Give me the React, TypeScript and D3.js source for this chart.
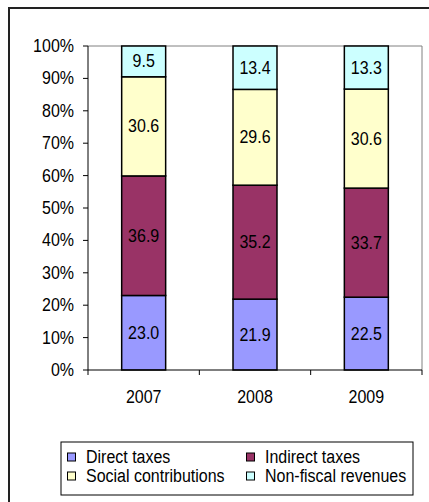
import * as d3 from "d3";

const years = ["2007", "2008", "2009"];
const seriesNames = ["Direct taxes", "Indirect taxes", "Social contributions", "Non-fiscal revenues"];
const directTaxes = [23.0, 21.9, 22.5];
const indirectTaxes = [36.9, 35.2, 33.7];
const socialContributions = [30.6, 29.6, 30.6];
const nonFiscal = [9.5, 13.4, 13.3];
const colors = ["#9999FF", "#993366", "#FFFFCC", "#CCFFFF"];
const yTicks = [0, 0.1, 0.2, 0.3, 0.4, 0.5, 0.6, 0.7, 0.8, 0.9, 1];

const W = 429;
const H = 502;
const margin = { top: 46, right: 7, bottom: 132, left: 88 };
const font = "'Liberation Sans', Arial, sans-serif";

// text in the picture is a bit stretched vertically
const Txt = ({ x, y, anchor = "middle", size = 16, sy = 1.2, children }: any) => (
  <text
    transform={`translate(${x},${y}) scale(1,${sy})`}
    textAnchor={anchor}
    fontFamily={font}
    fontSize={size}
    fill="#000"
  >
    {children}
  </text>
);

const App = () => {
  const all = [directTaxes, indirectTaxes, socialContributions, nonFiscal];
  const rows = years.map((yr, i) => {
    const r: any = { year: yr };
    seriesNames.forEach((s, k) => (r[s] = all[k][i]));
    return r;
  });
  const stack = d3.stack().keys(seriesNames).offset(d3.stackOffsetExpand);
  const layers = stack(rows);

  const x = d3
    .scaleBand()
    .domain(years)
    .range([margin.left, W - margin.right])
    .paddingInner(0.605)
    .paddingOuter(0.3025);
  const y = d3
    .scaleLinear()
    .domain([0, 1])
    .range([H - margin.bottom, margin.top]);

  const x0 = margin.left;
  const x1 = W - margin.right;
  const y0 = H - margin.bottom;
  const y1 = margin.top;
  const step = x.step();
  const catEdges = d3.range(years.length + 1).map((i) => x0 + i * step);

  const legendItems = [
    { name: seriesNames[0], c: colors[0], lx: 67, ly: 453 },
    { name: seriesNames[1], c: colors[1], lx: 246, ly: 453 },
    { name: seriesNames[2], c: colors[2], lx: 67, ly: 472 },
    { name: seriesNames[3], c: colors[3], lx: 246, ly: 472 },
  ];

  return (
    <svg
      width={W}
      height={H}
      style={{ position: "absolute", left: 0, top: 0, background: "#fff" }}
    >
      <rect x={9} y={8} width={W + 20} height={H + 20} fill="none" stroke="#222" strokeWidth={2} />

      {/* plot border (top/right) */}
      <line x1={x0} x2={x1} y1={y1} y2={y1} stroke="#808080" />
      <line x1={x1} x2={x1} y1={y1} y2={y0} stroke="#808080" />

      {layers.map((layer, k) =>
        layer.map((d: any, i: number) => {
          const yt = y(d[1]);
          const yb = y(d[0]);
          const bx = x(years[i])!;
          const v = all[k][i];
          return (
            <g key={`${k}-${i}`}>
              <rect
                x={bx}
                y={yt}
                width={x.bandwidth()}
                height={yb - yt}
                fill={colors[k]}
                stroke="#000"
                strokeWidth={1.5}
              />
              <Txt x={bx + x.bandwidth() / 2} y={(yt + yb) / 2 + 6}>
                {v.toFixed(1)}
              </Txt>
            </g>
          );
        })
      )}

      {/* y axis */}
      <line x1={x0} x2={x0} y1={y1} y2={y0} stroke="#000" />
      {yTicks.map((t) => (
        <g key={t}>
          <line x1={x0 - 5} x2={x0} y1={y(t)} y2={y(t)} stroke="#000" />
          <Txt x={74} y={y(t) + 6} anchor="end">
            {d3.format(".0%")(t)}
          </Txt>
        </g>
      ))}

      {/* x axis */}
      <line x1={x0} x2={x1} y1={y0} y2={y0} stroke="#000" strokeWidth={1.2} />
      {catEdges.map((e, i) => (
        <line key={i} x1={e} x2={e} y1={y0} y2={y0 + 5} stroke="#000" />
      ))}
      {years.map((yr) => (
        <Txt key={yr} x={x(yr)! + x.bandwidth() / 2} y={403}>
          {yr}
        </Txt>
      ))}

      {/* legend */}
      <rect x={61} y={442} width={352} height={53} fill="#fff" stroke="#000" />
      {legendItems.map((it) => (
        <g key={it.name}>
          <rect x={it.lx + 0.5} y={it.ly} width={8} height={8} fill={it.c} stroke="#000" />
          <Txt x={it.lx + 19} y={it.ly + 10} anchor="start" sy={1.1}>
            {it.name}
          </Txt>
        </g>
      ))}
    </svg>
  );
};

export default App;
